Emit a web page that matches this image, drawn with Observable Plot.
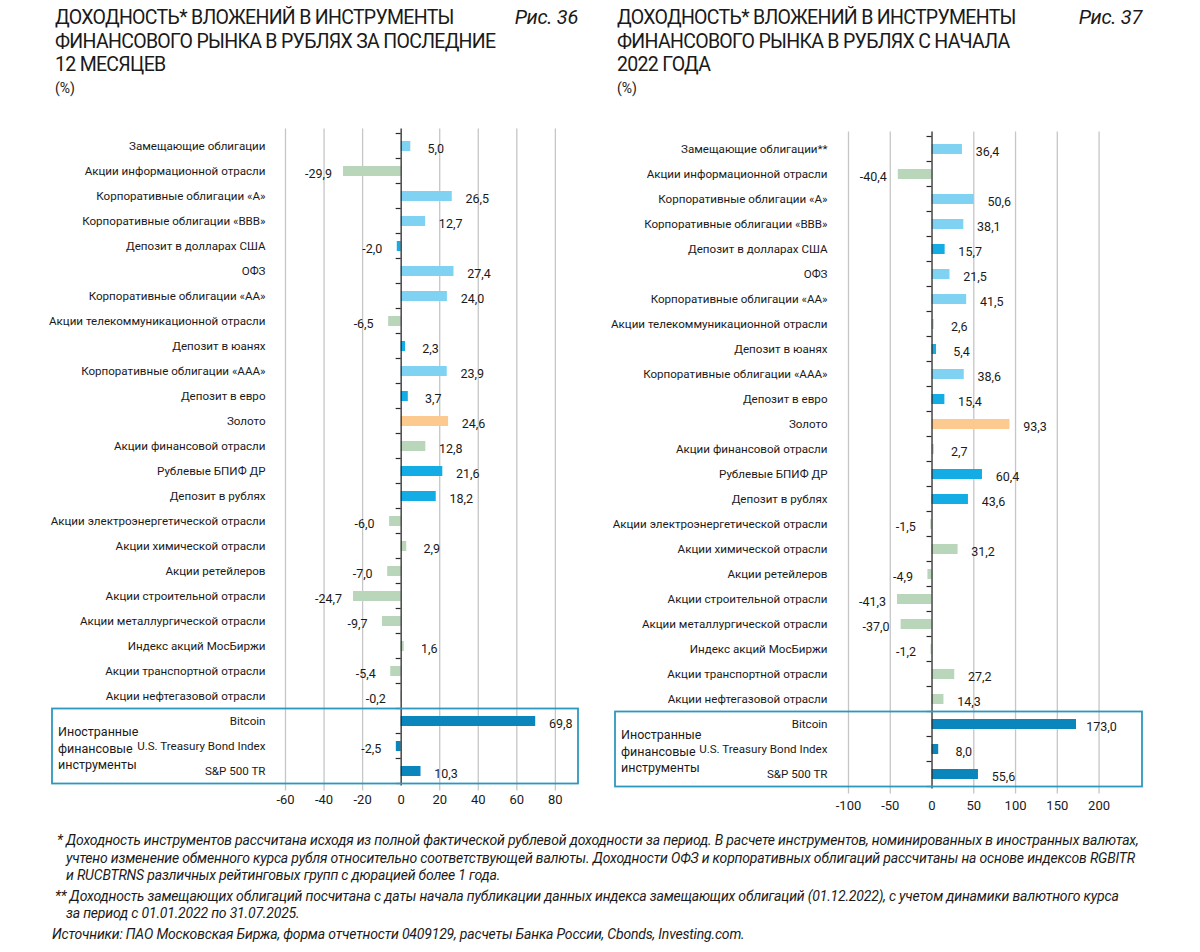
<!DOCTYPE html>
<html><head><meta charset="utf-8">
<script src="https://cdn.jsdelivr.net/npm/d3@7"></script>
<script src="https://cdn.jsdelivr.net/npm/@observablehq/plot@0.6"></script>
<style>
html,body{margin:0;padding:0;background:#fff;width:1200px;height:952px;overflow:hidden;font-family:Roboto,sans-serif;color:#1a1a1a;}
.fig{position:absolute;top:0;width:544px;}
.title{position:absolute;top:6px;font-size:19.5px;line-height:23.5px;letter-spacing:-0.7px;color:#1a1a1a;white-space:nowrap;}
.ris{position:absolute;top:6px;font-size:20px;line-height:23.5px;font-style:italic;letter-spacing:-0.3px;}
.unit{position:absolute;top:80px;font-size:14px;}
.plot{position:absolute;}
.notes{position:absolute;left:52px;top:832px;font-size:14px;font-style:italic;letter-spacing:-0.18px;line-height:17.6px;color:#1a1a1a;}
.notes div{white-space:nowrap;}
</style></head>
<body>
<div class="fig" id="f1" style="left:46px">
  <div class="title" style="left:9px">ДОХОДНОСТЬ* ВЛОЖЕНИЙ В ИНСТРУМЕНТЫ<br>ФИНАНСОВОГО РЫНКА В РУБЛЯХ ЗА ПОСЛЕДНИЕ<br>12 МЕСЯЦЕВ</div>
  <div class="ris" style="right:12px">Рис. 36</div>
  <div class="unit" style="left:9px">(%)</div>
  <div class="plot" id="p1" style="left:0;top:118px"></div>
</div>
<div class="fig" id="f2" style="left:606px">
  <div class="title" style="left:11px">ДОХОДНОСТЬ* ВЛОЖЕНИЙ В ИНСТРУМЕНТЫ<br>ФИНАНСОВОГО РЫНКА В РУБЛЯХ С НАЧАЛА<br>2022 ГОДА</div>
  <div class="ris" style="right:8px">Рис. 37</div>
  <div class="unit" style="left:11px">(%)</div>
  <div class="plot" id="p2" style="left:0;top:118px"></div>
</div>
<div class="notes">
  <div style="padding-left:5px">* Доходность инструментов рассчитана исходя из полной фактической рублевой доходности за период. В расчете инструментов, номинированных в иностранных валютах,</div>
  <div style="padding-left:14px">учтено изменение обменного курса рубля относительно соответствующей валюты. Доходности ОФЗ и корпоративных облигаций рассчитаны на основе индексов RGBITR</div>
  <div style="padding-left:14px">и RUCBTRNS различных рейтинговых групп с дюрацией более 1 года.</div>
  <div style="padding-left:3px;margin-top:3px">** Доходность замещающих облигаций посчитана с даты начала публикации данных индекса замещающих облигаций (01.12.2022), с учетом динамики валютного курса</div>
  <div style="padding-left:14px">за период с 01.01.2022 по 31.07.2025.</div>
  <div style="margin-top:3px">Источники: ПАО Московская Биржа, форма отчетности 0409129, расчеты Банка России, Cbonds, Investing.com.</div>
</div>
<script>
// ---------- DATA ----------
const categories1 = [
  "Замещающие облигации",
  "Акции информационной отрасли",
  "Корпоративные облигации «А»",
  "Корпоративные облигации «ВВВ»",
  "Депозит в долларах США",
  "ОФЗ",
  "Корпоративные облигации «АА»",
  "Акции телекоммуникационной отрасли",
  "Депозит в юанях",
  "Корпоративные облигации «ААА»",
  "Депозит в евро",
  "Золото",
  "Акции финансовой отрасли",
  "Рублевые БПИФ ДР",
  "Депозит в рублях",
  "Акции электроэнергетической отрасли",
  "Акции химической отрасли",
  "Акции ретейлеров",
  "Акции строительной отрасли",
  "Акции металлургической отрасли",
  "Индекс акций МосБиржи",
  "Акции транспортной отрасли",
  "Акции нефтегазовой отрасли",
  "Bitcoin",
  "U.S. Treasury Bond Index",
  "S&P 500 TR"
];
const categories2 = ["Замещающие облигации**"].concat(categories1.slice(1));
const groups = [
  "bond","stock","bond","bond","deposit","bond","bond","stock","deposit","bond","deposit","gold",
  "stock","deposit","deposit","stock","stock","stock","stock","stock","stock","stock","stock",
  "foreign","foreign","foreign"
];
const values12m = [5.0,-29.9,26.5,12.7,-2.0,27.4,24.0,-6.5,2.3,23.9,3.7,24.6,12.8,21.6,18.2,-6.0,2.9,-7.0,-24.7,-9.7,1.6,-5.4,-0.2,69.8,-2.5,10.3];
const values2022 = [36.4,-40.4,50.6,38.1,15.7,21.5,41.5,2.6,5.4,38.6,15.4,93.3,2.7,60.4,43.6,-1.5,31.2,-4.9,-41.3,-37.0,-1.2,27.2,14.3,173.0,8.0,55.6];
const ticks1 = [-60,-40,-20,0,20,40,60,80];
const ticks2 = [-100,-50,0,50,100,150,200];
const foreignLabel = ["Иностранные","финансовые","инструменты"];
const foreignCats = ["Bitcoin","S&P 500 TR"];

// ---------- STYLE ----------
const groupColors = {bond:"#7fd2f1", deposit:"#14ace5", gold:"#fcca8e", stock:"#bad6ba", foreign:"#0b86bd"};
const boxColor = "#2d98bf";

function fmt(v){ return v.toFixed(1).replace(".", ","); }

function chart(el, cats, vals, ticks, domain, opt){
  const data = cats.map((c,i)=>({cat:c, v:vals[i], g:groups[i]}));
  const plot = Plot.plot({
    width: 544,
    height: opt.height,
    marginTop: opt.mt,
    marginBottom: opt.mb,
    marginLeft: opt.ml,
    marginRight: opt.mr,
    style:{fontFamily:"Roboto, sans-serif", fontSize:"12px", color:"#1a1a1a", background:"#fff", overflow:"visible"},
    x:{domain, ticks, tickFormat:d=>String(d), tickSize:0, tickPadding:opt.tp, label:null},
    y:{domain:cats, paddingInner:0.6, paddingOuter:0.3, tickSize:0, tickPadding:opt.yp, label:null, axis:null},
    color:{domain:Object.keys(groupColors), range:Object.values(groupColors)},
    marks:[
      Plot.ruleX(ticks.filter(t=>t!==0), {stroke:"#c6c6c6", strokeWidth:1.3, insetTop:-3, insetBottom:-6}),
      Plot.barX(data, {y:"cat", x:"v", fill:"g"}),
      Plot.ruleX([0], {stroke:"#2a2a2a", strokeWidth:1.3, insetTop:-3, insetBottom:-1}),
      Plot.axisY({tickSize:0, tickPadding:opt.yp, fontSize:11.6, label:null, fill:"#1a1a1a", style:"letter-spacing:-0.4px"}),
      Plot.text(data.filter(d=>d.v>=0), {y:"cat", x:"v", text:d=>fmt(d.v), dx:opt.ldx, textAnchor:"middle", fontSize:12.5, fill:"#1a1a1a", dy:2}),
      Plot.text(data.filter(d=>d.v<0), {y:"cat", x:"v", text:d=>fmt(d.v), dx:-opt.ldx, textAnchor:"middle", fontSize:12.5, fill:"#1a1a1a", dy:2}),
      Plot.axisX({ticks, tickFormat:d=>String(d), tickSize:0, tickPadding:opt.tp, fontSize:13, label:null, fill:"#1a1a1a"})
    ]
  });
  el.appendChild(plot);
  const sy = plot.scale("y"), sx = plot.scale("x");
  const step = sy.step;
  const svg = d3.select(plot);
  // small ticks on the zero axis at band boundaries
  const x0 = sx.apply(0);
  const centers = cats.map(c=>sy.apply(c)+sy.bandwidth/2);
  const bounds = centers.map(c=>c-step/2).concat([centers[centers.length-1]+step/2]);
  svg.append("g").selectAll("line").data(bounds).join("line")
    .attr("x1", x0-5).attr("x2", x0).attr("y1", d=>d).attr("y2", d=>d)
    .attr("stroke","#2a2a2a").attr("stroke-width",1.2);
  // box around foreign instruments
  const top = sy.apply(foreignCats[0]) + sy.bandwidth/2 - step/2;
  const bot = sy.apply(foreignCats[1]) + sy.bandwidth/2 + step/2;
  const left = opt.boxLeft, right = 544 - opt.mr;
  svg.append("rect").attr("x", left).attr("y", top).attr("width", right-left).attr("height", bot-top)
    .attr("fill","none").attr("stroke", boxColor).attr("stroke-width", 1.8);
  svg.append("text").attr("x", left+6).attr("y", (top+bot)/2 - 14)
    .attr("font-size", 12.5).attr("fill","#1a1a1a").attr("font-family","Roboto, sans-serif")
    .attr("text-anchor","start")
    .selectAll("tspan").data(foreignLabel).join("tspan")
    .attr("x", left+6).attr("dy",(d,i)=> i===0? "0.35em" : "16.5px").text(d=>d);
}

chart(document.getElementById("p1"), categories1, values12m, ticks1, [-60, 92],
  {height:695, mt:13.5, mb:28.5, ml:239, mr:12, tp:10, yp:20, ldx:25, boxLeft:6});
chart(document.getElementById("p2"), categories2, values2022, ticks2, [-100, 252],
  {height:695, mt:16.5, mb:25.5, ml:242, mr:8, tp:13, yp:21, ldx:25, boxLeft:9});
</script>
</body></html>
